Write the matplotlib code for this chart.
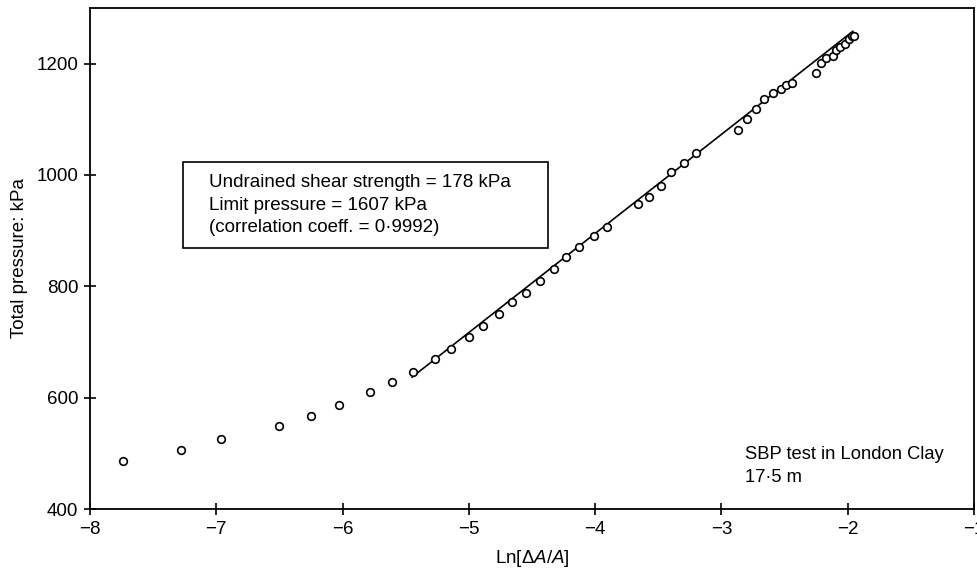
import numpy as np
import matplotlib as mpl
mpl.use('Agg')
import matplotlib.pyplot as plt
from matplotlib.patches import Rectangle

plt.rcParams['font.family'] = ['Liberation Sans', 'DejaVu Sans']
plt.rcParams['mathtext.fontset'] = 'custom'
plt.rcParams['mathtext.rm'] = 'Liberation Sans'
plt.rcParams['mathtext.it'] = 'Liberation Sans:italic'

# measured points: Ln[dA/A] vs total pressure (kPa)
ln_strain = [-7.74, -7.28, -6.96, -6.50, -6.25, -6.03, -5.78, -5.61, -5.44, -5.27,
             -5.14, -5.00, -4.89, -4.76, -4.66, -4.55, -4.44, -4.33, -4.23, -4.13,
             -4.01, -3.91, -3.66, -3.57, -3.48, -3.40, -3.30, -3.20, -2.87, -2.80,
             -2.73, -2.66, -2.59, -2.53, -2.49, -2.44, -2.25, -2.21, -2.17, -2.12,
             -2.09, -2.06, -2.02, -1.99, -1.97, -1.95]
pressure = [486, 506, 526, 549, 567, 587, 610, 628, 646, 669,
            687, 709, 728, 750, 771, 788, 809, 832, 852, 870,
            891, 906, 947, 960, 981, 1005, 1022, 1040, 1081, 1100,
            1119, 1137, 1148, 1154, 1161, 1166, 1184, 1202, 1211, 1214,
            1225, 1229, 1236, 1245, 1250, 1250]

# fitted line p = limit + cu * ln(dA/A)
cu = 178
p_limit = 1607
fit_x = [-5.45, -1.96]

fs = 13.5

fig = plt.figure(figsize=(9.78, 5.69), dpi=100)
ax = fig.add_axes([0.092, 0.1054, 0.904, 0.8806])

ax.plot(ln_strain, pressure, 'o', mfc='white', mec='black', ms=5.5, mew=1.2, zorder=3)
fx = np.array(fit_x)
ax.plot(fx, p_limit + cu * fx, color='black', lw=1.2, zorder=2)

ax.set_xlim(-8, -1)
ax.set_ylim(400, 1300)
ax.set_xticks(range(-8, 0))
ax.set_yticks([400, 600, 800, 1000, 1200])
ax.tick_params(direction='inout', length=9, width=1.2, labelsize=fs, pad=4)
for s in ax.spines.values():
    s.set_linewidth(1.3)

ax.set_xlabel(r'Ln[$\Delta A/A$]', fontsize=fs, labelpad=7)
ax.set_ylabel('Total pressure: kPa', fontsize=fs, labelpad=6)

# result box
ax.add_patch(Rectangle((-7.26, 868), 2.89, 156, fc='white', ec='black', lw=1.2, zorder=4))
ax.text(-7.06, 946, 'Undrained shear strength = 178 kPa\nLimit pressure = 1607 kPa\n(correlation coeff. = 0·9992)',
        fontsize=fs, va='center', ha='left', linespacing=1.39, zorder=5)

ax.text(-2.81, 477, 'SBP test in London Clay\n17·5 m', fontsize=13.2, va='center', ha='left',
        linespacing=1.48)

fig.savefig('out.png', dpi=100)
